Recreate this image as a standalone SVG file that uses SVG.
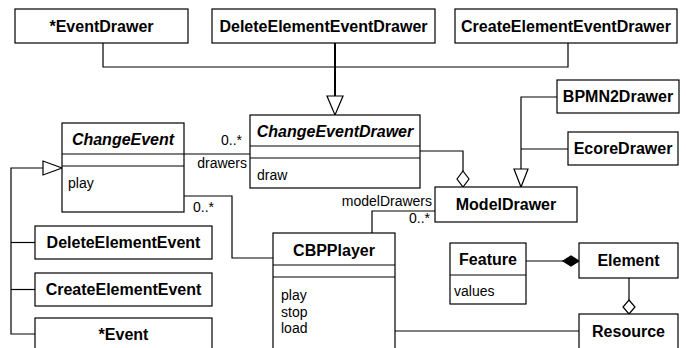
<svg xmlns="http://www.w3.org/2000/svg" width="686" height="348" viewBox="0 0 686 348">
  <style>
    .box { fill: #fff; stroke: #000; stroke-width: 1.2; }
    .div { stroke: #000; stroke-width: 1.2; }
    .edge { fill: none; stroke: #000; stroke-width: 1.2; }
    .thick { fill: none; stroke: #000; stroke-width: 2; }
    .hollow { fill: #fff; stroke: #000; stroke-width: 1.2; }
    .solid { fill: #000; stroke: #000; stroke-width: 1.2; }
    .name { font-family: "Liberation Sans", Arial, sans-serif; font-size: 16px; font-weight: bold; text-anchor: middle; fill: #000; }
    .abstract { font-style: italic; }
    .op { font-family: "Liberation Sans", Arial, sans-serif; font-size: 14px; fill: #000; }
    .end { text-anchor: end; }
  </style>
  <rect width="686" height="348" fill="#fff"/>

  <!-- connectors -->
  <g id="connectors">
    <!-- drawer subclasses to ChangeEventDrawer -->
    <polyline class="edge" points="103,43 103,67 568,67 568,43"/>
    <line class="thick" x1="335" y1="43" x2="335" y2="96"/>
    <polygon class="hollow" points="327,96 343,96 335,115"/>
    <!-- ChangeEvent to ChangeEventDrawer -->
    <line class="edge" x1="184" y1="154" x2="250" y2="154"/>
    <text class="op end" x="242" y="145">0..*</text>
    <text class="op end" x="247" y="168">drawers</text>
    <!-- ChangeEventDrawer aggregated in ModelDrawer -->
    <polyline class="edge" points="420,151 463,151 463,171"/>
    <polygon class="hollow" points="463,171 469,179 463,187 457,179"/>
    <!-- concrete model drawers to ModelDrawer -->
    <polyline class="edge" points="557,97 521,97 521,169"/>
    <line class="edge" x1="568" y1="149" x2="521" y2="149"/>
    <polygon class="hollow" points="514,169 528,169 521,187"/>
    <!-- ModelDrawer to CBPPlayer -->
    <polyline class="edge" points="435,211 372,211 372,233"/>
    <text class="op end" x="432" y="206">modelDrawers</text>
    <text class="op end" x="430" y="223">0..*</text>
    <!-- ChangeEvent to CBPPlayer -->
    <polyline class="edge" points="184,196 232,196 232,258 273,258"/>
    <text class="op" x="193" y="212">0..*</text>
    <!-- event subclasses to ChangeEvent -->
    <polyline class="edge" points="43,168 11,168 11,334 35,334"/>
    <line class="edge" x1="11" y1="242.5" x2="35" y2="242.5"/>
    <line class="edge" x1="11" y1="289.5" x2="35" y2="289.5"/>
    <polygon class="hollow" points="43,161 43,175 62,168"/>
    <!-- Feature composed in Element -->
    <line class="edge" x1="526" y1="261" x2="563" y2="261"/>
    <polygon class="solid" points="563,261 571,256 579,261 571,266"/>
    <!-- Element aggregated in Resource -->
    <line class="edge" x1="629" y1="278" x2="629" y2="300"/>
    <polygon class="hollow" points="629,300 635,307 629,314 623,307"/>
    <!-- CBPPlayer to Resource -->
    <line class="edge" x1="395" y1="331" x2="579" y2="331"/>
  </g>

  <g id="EventDrawer">
    <rect class="box" x="15" y="9" width="173" height="34"/>
    <text class="name" x="101.5" y="32">*EventDrawer</text>
  </g>
  <g id="DeleteElementEventDrawer">
    <rect class="box" x="212" y="9" width="223" height="34"/>
    <text class="name" x="323.5" y="32">DeleteElementEventDrawer</text>
  </g>
  <g id="CreateElementEventDrawer">
    <rect class="box" x="455" y="9" width="222" height="34"/>
    <text class="name" x="566" y="32">CreateElementEventDrawer</text>
  </g>
  <g id="BPMN2Drawer">
    <rect class="box" x="557" y="80" width="122" height="33"/>
    <text class="name" x="618" y="102">BPMN2Drawer</text>
  </g>
  <g id="EcoreDrawer">
    <rect class="box" x="568" y="132" width="110" height="33"/>
    <text class="name" x="623" y="154">EcoreDrawer</text>
  </g>
  <g id="ChangeEvent">
    <rect class="box" x="62" y="123" width="122" height="89"/>
    <line class="div" x1="62" y1="154" x2="184" y2="154"/>
    <line class="div" x1="62" y1="166" x2="184" y2="166"/>
    <text class="name abstract" x="123" y="145">ChangeEvent</text>
    <text class="op" x="68" y="188">play</text>
  </g>
  <g id="ChangeEventDrawer">
    <rect class="box" x="250" y="115" width="170" height="73"/>
    <line class="div" x1="250" y1="146" x2="420" y2="146"/>
    <line class="div" x1="250" y1="158" x2="420" y2="158"/>
    <text class="name abstract" x="335" y="137">ChangeEventDrawer</text>
    <text class="op" x="257" y="180">draw</text>
  </g>
  <g id="ModelDrawer">
    <rect class="box" x="435" y="187" width="142" height="35"/>
    <text class="name" x="506" y="210">ModelDrawer</text>
  </g>
  <g id="CBPPlayer">
    <rect class="box" x="273" y="233" width="122" height="120"/>
    <line class="div" x1="273" y1="265" x2="395" y2="265"/>
    <line class="div" x1="273" y1="277" x2="395" y2="277"/>
    <text class="name" x="334" y="256">CBPPlayer</text>
    <text class="op" x="281" y="300">play</text>
    <text class="op" x="281" y="316.5">stop</text>
    <text class="op" x="281" y="333">load</text>
  </g>
  <g id="DeleteElementEvent">
    <rect class="box" x="35" y="226" width="177" height="33"/>
    <text class="name" x="123.5" y="248">DeleteElementEvent</text>
  </g>
  <g id="CreateElementEvent">
    <rect class="box" x="35" y="273" width="177" height="33"/>
    <text class="name" x="123.5" y="295">CreateElementEvent</text>
  </g>
  <g id="Event">
    <rect class="box" x="35" y="318" width="177" height="40"/>
    <text class="name" x="123.5" y="340">*Event</text>
  </g>
  <g id="Feature">
    <rect class="box" x="450" y="243" width="76" height="61"/>
    <line class="div" x1="450" y1="275" x2="526" y2="275"/>
    <text class="name" x="488" y="265">Feature</text>
    <text class="op" x="454" y="296">values</text>
  </g>
  <g id="Element">
    <rect class="box" x="579" y="243" width="99" height="35"/>
    <text class="name" x="628.5" y="266">Element</text>
  </g>
  <g id="Resource">
    <rect class="box" x="579" y="314" width="99" height="44"/>
    <text class="name" x="628.5" y="337">Resource</text>
  </g>
</svg>
